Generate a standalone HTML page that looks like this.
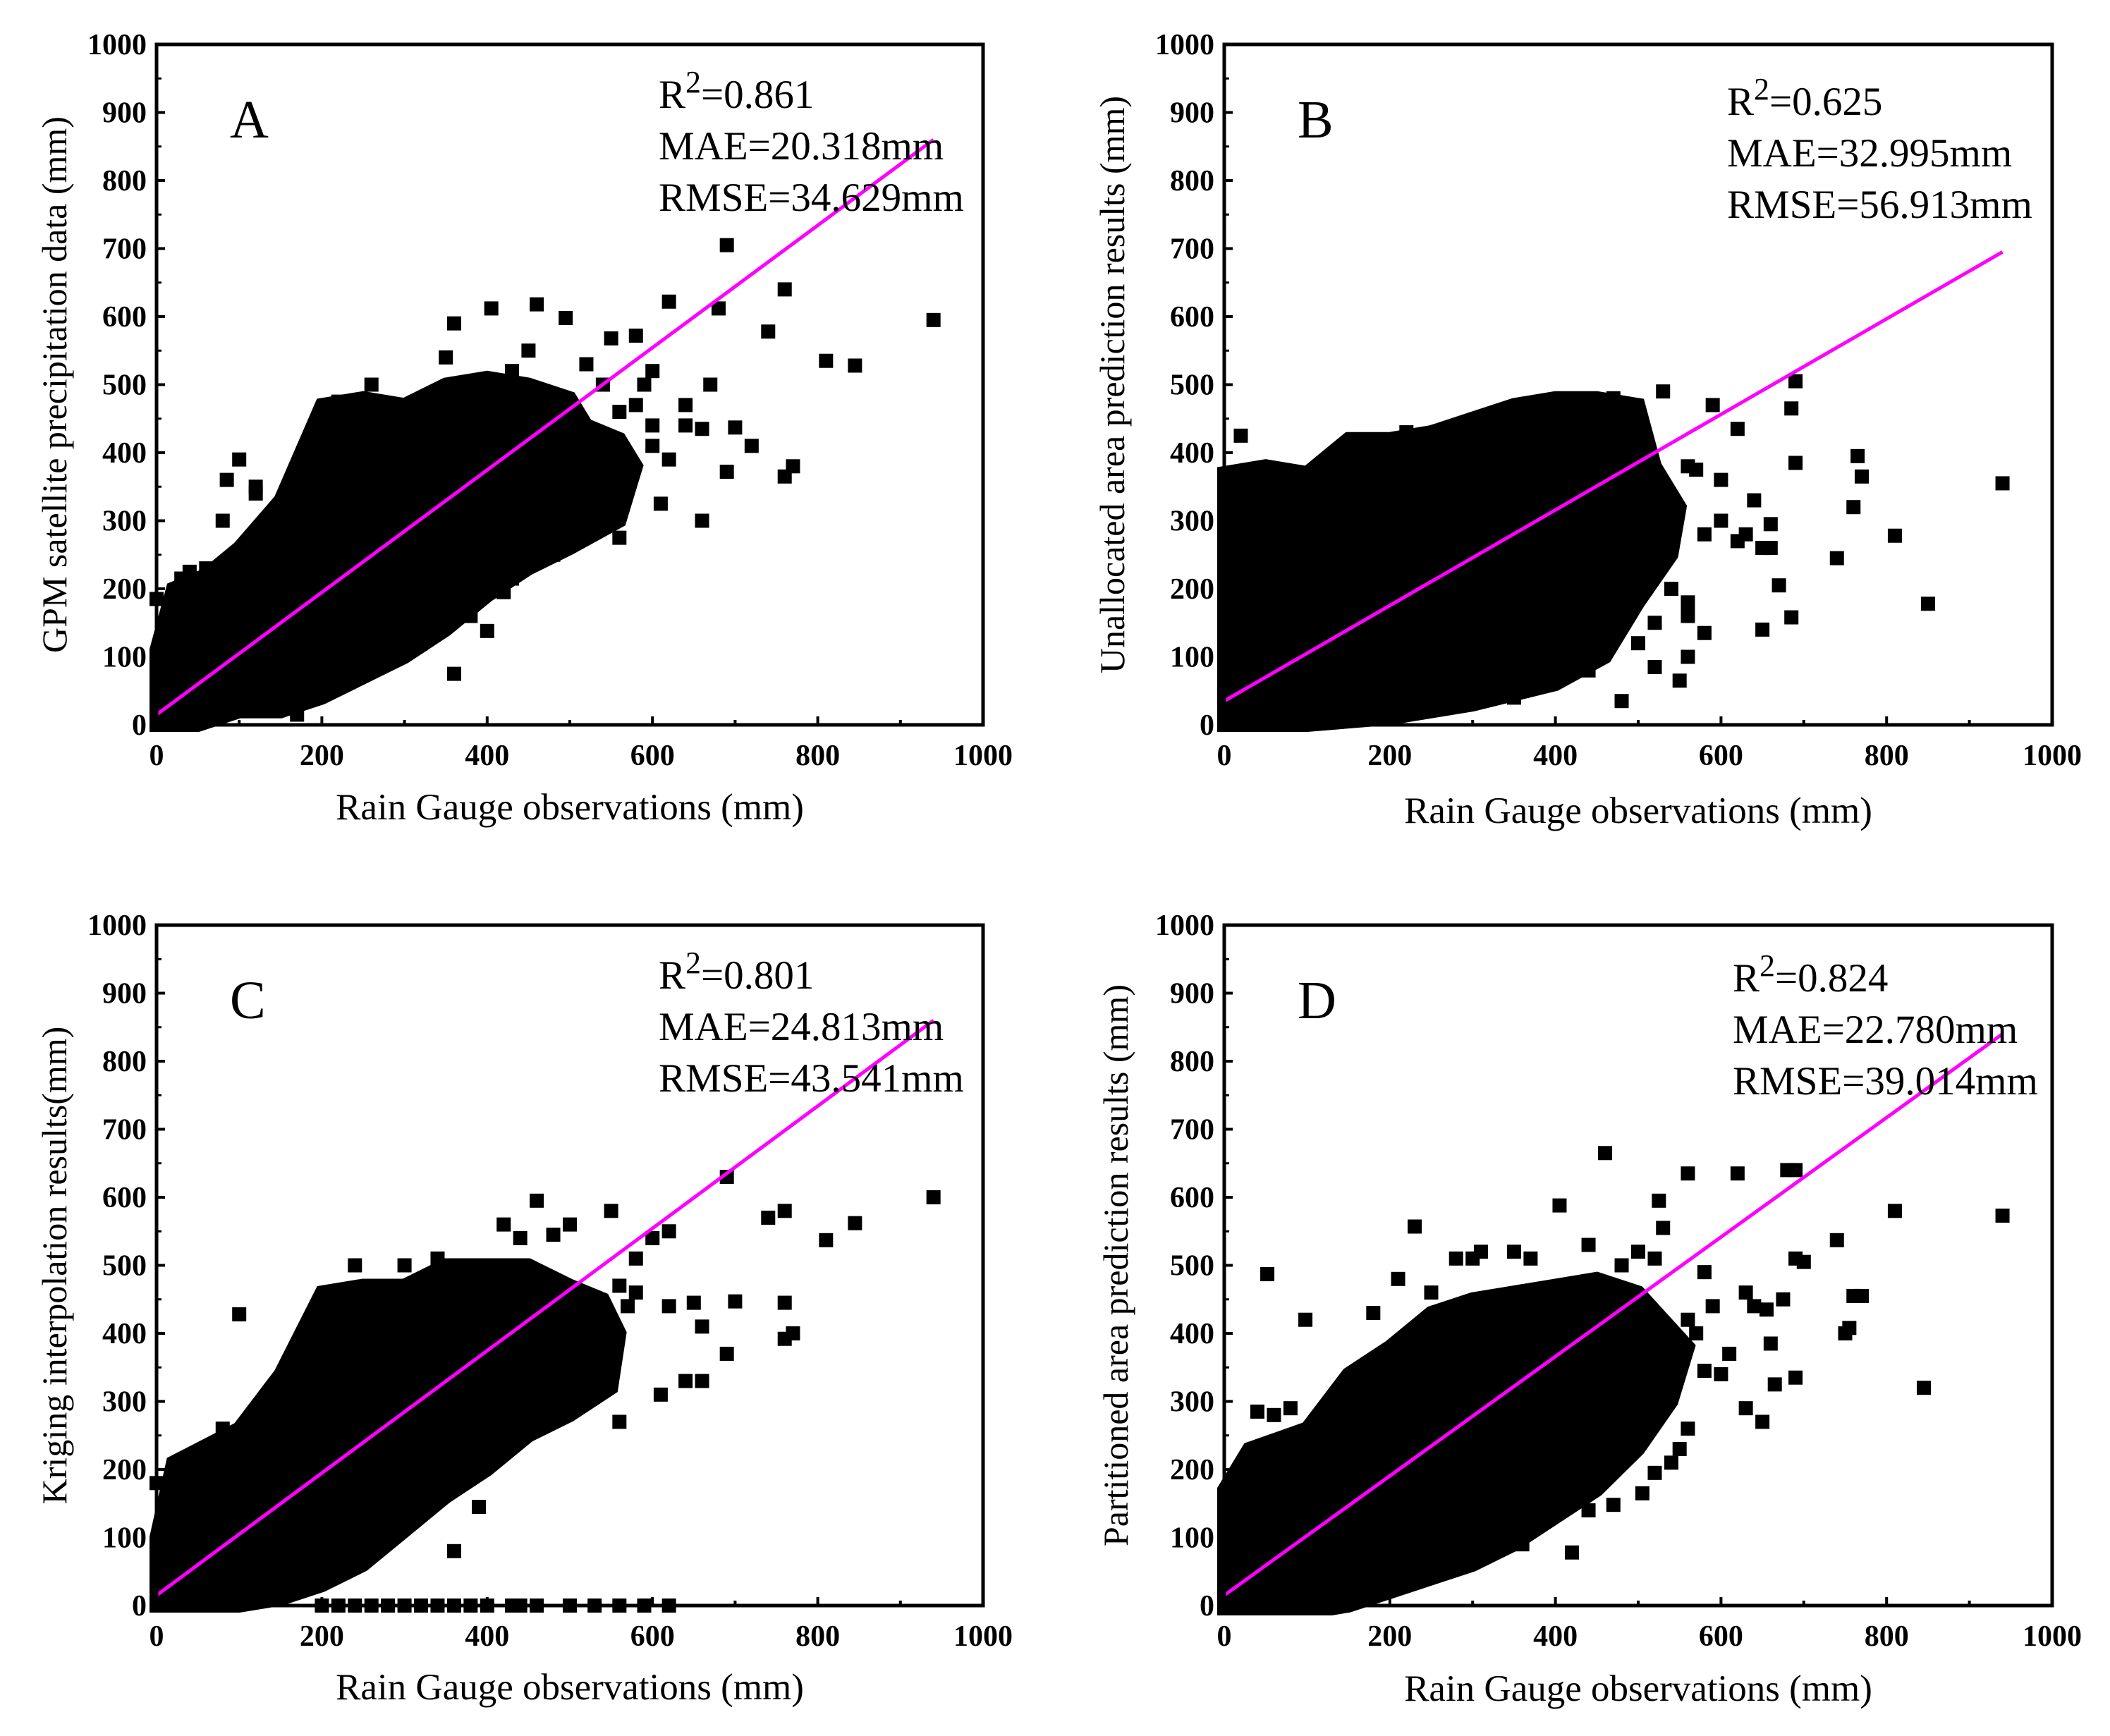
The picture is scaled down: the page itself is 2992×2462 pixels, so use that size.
<!DOCTYPE html>
<html><head><meta charset="utf-8">
<style>
html,body{margin:0;padding:0;background:#fff;}
svg{display:block;}
</style></head>
<body>
<svg id="fig" width="2992" height="2462" viewBox="0 0 2992 2462" xmlns="http://www.w3.org/2000/svg"></svg>
<script>
// ---- data ----
const xTicks = [0,200,400,600,800,1000];
const yTicks = [0,100,200,300,400,500,600,700,800,900,1000];
const panelLetters = ["A","B","C","D"];
const yTitles = ["GPM satellite precipitation data (mm)","Unallocated area prediction results (mm)","Kriging interpolation results(mm)","Partitioned area prediction results (mm)"];
const statR2 = ["0.861","0.625","0.801","0.824"];
const statMAE = ["20.318","32.995","24.813","22.780"];
const statRMSE = ["34.629","56.913","43.541","39.014"];
const fitStart = [[0,15],[0,35],[0,15],[0,15]];
const fitEnd = [[940,860],[940,695],[940,860],[940,840]];
// dense cloud envelopes (data coords)
const cloudA = [[0,0],[0,110],[20,200],[60,220],[100,260],[150,330],[200,470],[250,480],[300,470],[350,500],[400,510],[450,500],[500,480],[520,440],[560,420],[580,380],[560,300],[500,260],[450,230],[400,190],[350,140],[300,100],[250,70],[200,40],[150,20],[100,20],[50,0]];
const cloudB = [[0,0],[0,370],[50,380],[100,370],[150,420],[200,420],[250,430],[300,450],[350,470],[400,480],[450,480],[500,470],[520,380],[550,320],[540,250],[500,180],[460,100],[400,60],[300,30],[200,10],[100,0]];
const cloudC = [[0,0],[0,100],[20,210],[100,260],[150,340],[200,460],[250,470],[300,470],[350,500],[400,500],[450,500],[500,470],[540,450],[560,400],[550,320],[500,280],[450,250],[400,200],[350,160],[300,110],[250,60],[200,30],[150,10],[100,0]];
const cloudD = [[0,0],[0,170],[30,230],[100,260],[150,340],[200,380],[250,430],[300,450],[350,460],[400,470],[450,480],[500,460],[530,420],[560,380],[540,300],[500,230],[450,170],[400,130],[350,90],[300,60],[250,40],[200,20],[150,0],[100,-10],[0,-5]];
const pointsA = [[940,595],[690,705],[760,640],[680,612],[740,578],[810,535],[845,528],[620,622],[460,618],[405,612],[360,590],[495,598],[550,568],[580,572],[640,440],[700,437],[660,435],[760,365],[770,380],[690,372],[610,325],[660,300],[560,275],[360,75],[400,138],[420,195],[170,15],[100,390],[85,360],[80,300],[120,350],[0,185],[30,215],[600,520],[670,500],[620,390],[720,410],[590,500],[640,470],[600,440],[450,550],[430,520],[350,540],[330,460],[260,500],[220,475],[540,500],[520,530],[560,460],[580,470],[600,410],[540,330],[520,300],[480,250],[470,270],[430,215],[380,160],[320,120],[300,140],[250,90],[200,55],[120,340],[150,300],[60,230],[40,225]];
const pointsB = [[940,355],[850,178],[810,278],[740,245],[760,320],[770,365],[765,395],[690,505],[685,465],[690,385],[685,158],[670,205],[650,260],[660,295],[640,330],[620,435],[600,360],[590,470],[570,375],[560,180],[580,135],[550,65],[520,85],[480,35],[20,425],[80,365],[650,140],[470,480],[440,478],[530,490],[300,440],[340,430],[220,430],[210,420],[170,380],[560,160],[560,100],[540,200],[520,150],[500,120],[440,80],[400,70],[350,40],[360,50],[300,60],[250,60],[200,20],[160,30],[580,280],[560,380],[600,300],[620,270],[630,280],[660,260]];
const pointsC = [[940,600],[690,630],[760,580],[740,570],[810,537],[845,562],[620,550],[600,540],[460,595],[550,580],[500,560],[480,545],[580,510],[620,440],[650,445],[660,410],[700,447],[760,445],[760,392],[770,400],[690,370],[640,330],[660,330],[610,310],[560,270],[390,145],[360,80],[100,428],[40,215],[0,180],[200,0],[240,0],[280,0],[320,0],[360,0],[400,0],[430,0],[460,0],[500,0],[530,0],[560,0],[590,0],[620,0],[220,0],[260,0],[300,0],[340,0],[380,0],[440,0],[340,510],[300,500],[240,500],[210,460],[420,560],[440,540],[560,470],[580,460],[570,440],[540,340],[500,300],[450,270],[400,210],[350,170],[300,130],[260,100],[230,80],[200,60],[150,270],[80,260],[60,230]];
const pointsD = [[940,573],[845,320],[810,580],[740,537],[760,455],[770,455],[750,400],[755,408],[690,640],[680,640],[675,450],[690,510],[700,505],[620,635],[560,635],[525,595],[530,555],[460,665],[405,588],[230,557],[52,487],[98,420],[40,285],[630,460],[640,440],[655,435],[660,385],[690,335],[665,325],[650,270],[630,290],[610,370],[600,340],[580,345],[560,260],[550,230],[540,210],[520,195],[505,165],[470,148],[440,140],[420,78],[360,90],[310,80],[280,85],[310,520],[350,520],[370,510],[300,510],[280,510],[250,460],[210,480],[180,430],[440,530],[480,500],[500,520],[520,510],[580,490],[590,440],[570,400],[560,420],[540,400],[500,350],[520,320],[480,230],[460,200],[400,150],[380,140],[340,110],[300,100],[260,70],[220,50],[130,0],[80,290],[60,280]];
const clouds = [cloudA,cloudB,cloudC,cloudD];
const pointSets = [pointsA,pointsB,pointsC,pointsD];

// ---- layout ----
const boxes = [
  {l:222,r:1394,t:63,b:1028,tx:77,tt:1162},
  {l:1736,r:2910,t:63,b:1028,tx:1577,tt:1167},
  {l:222,r:1394,t:1312,b:2277,tx:77,tt:2410},
  {l:1736,r:2910,t:1312,b:2277,tx:1582,tt:2412}
];
const statPos = [[934,153],[2449,163],[934,1402],[2457,1406]];
const SERIF = '"Liberation Serif", "DejaVu Serif", serif';
const NS = "http://www.w3.org/2000/svg";
const svg = document.getElementById("fig");
function mk(tag, attrs, parent){
  const e = document.createElementNS(NS, tag);
  for (const k in attrs) e.setAttribute(k, attrs[k]);
  (parent||svg).appendChild(e);
  return e;
}
const defs = mk("defs",{});
boxes.forEach((B,i)=>{
  const cp = mk("clipPath",{id:"clip"+i},defs);
  mk("rect",{x:B.l-12,y:B.t,width:B.r-B.l+12,height:B.b-B.t+14},cp);
  const g = mk("g",{});
  
  
  const sx = v => B.l + (B.r-B.l)*v/1000;
  const sy = v => B.b - (B.b-B.t)*v/1000;
  const pg = mk("g",{"clip-path":"url(#clip"+i+")"},g);
  const poly = mk("polygon",{points:clouds[i].map(p=>sx(p[0])+","+sy(p[1])).join(" "),fill:"#000",stroke:"#000","stroke-width":20,"stroke-linejoin":"miter"},pg);
  
  
  pointSets[i].forEach(p=>{
    const r = mk("rect",{x:sx(p[0])-10,y:sy(p[1])-10,width:20,height:20,fill:"#000"},pg);
    
    
  });
  const fl = mk("line",{x1:sx(fitStart[i][0]),y1:sy(fitStart[i][1]),x2:sx(fitEnd[i][0]),y2:sy(fitEnd[i][1]),stroke:"#ff00ff","stroke-width":5},g);
  
  
  const fr = mk("rect",{x:B.l,y:B.t,width:B.r-B.l,height:B.b-B.t,fill:"none",stroke:"#000","stroke-width":5},g);
  
  
  for(let v=0; v<=1000; v+=100){
    mk("line",{x1:sx(v),y1:B.b,x2:sx(v),y2:B.b-(v%200===0?12:7),stroke:"#000","stroke-width":4},g);
    mk("line",{x1:B.l,y1:sy(v),x2:B.l+12,y2:sy(v),stroke:"#000","stroke-width":4},g);
    if (v<1000) mk("line",{x1:B.l,y1:sy(v+50),x2:B.l+7,y2:sy(v+50),stroke:"#000","stroke-width":3},g);
  }
  xTicks.forEach(v=>{
    const t = mk("text",{x:sx(v),y:B.b+57,"text-anchor":"middle","font-family":SERIF,"font-weight":"bold","font-size":42},g);
    t.textContent = v;
    
    
  });
  yTicks.forEach(v=>{
    const t = mk("text",{x:B.l-14,y:sy(v)+14,"text-anchor":"end","font-family":SERIF,"font-weight":"bold","font-size":42},g);
    t.textContent = v;
    
    
  });
  const xt = mk("text",{x:(B.l+B.r)/2,y:B.tt,"text-anchor":"middle","font-family":SERIF,"font-size":53},g);
  xt.textContent = "Rain Gauge observations (mm)";
  
  
  const cy = (B.t+B.b)/2;
  const yt = mk("text",{x:B.tx,y:cy,"text-anchor":"middle","font-family":SERIF,"font-size":50,transform:"rotate(-90 "+B.tx+" "+cy+")",dy:"17"},g);
  yt.textContent = yTitles[i];
  
  
  const lt = mk("text",{x:B.l+104,y:B.t+132,"font-family":SERIF,"font-size":76},g);
  lt.textContent = panelLetters[i];
  
  
  const [px,py] = statPos[i];
  const s1 = mk("text",{x:px,y:py,"font-family":SERIF,"font-size":57},g);
  s1.innerHTML = 'R<tspan dy="-22" font-size="44">2</tspan><tspan dy="22">=' + statR2[i] + '</tspan>';
  
  
  const s2 = mk("text",{x:px,y:py+73,"font-family":SERIF,"font-size":57},g);
  s2.textContent = "MAE=" + statMAE[i] + "mm";
  
  
  const s3 = mk("text",{x:px,y:py+146,"font-family":SERIF,"font-size":57},g);
  s3.textContent = "RMSE=" + statRMSE[i] + "mm";
  
  
});
</script>
</body></html>
